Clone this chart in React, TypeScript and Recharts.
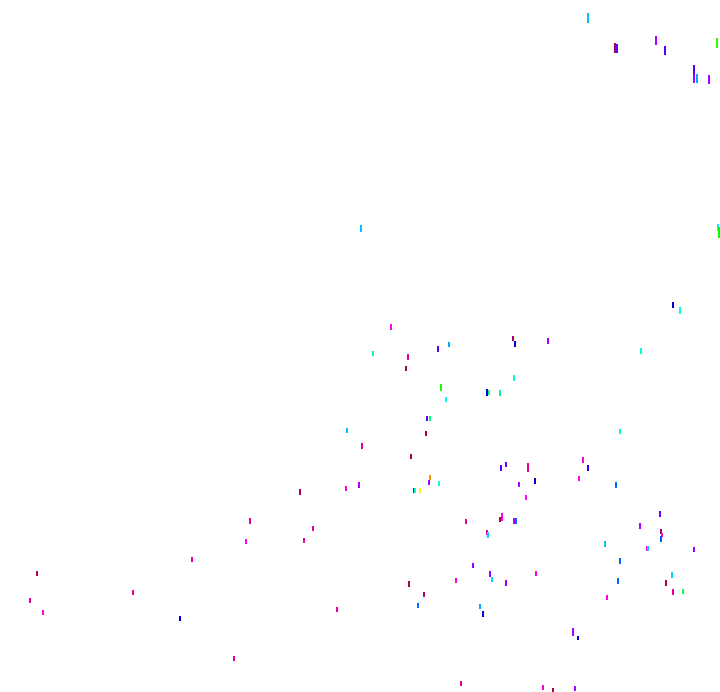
import { ScatterChart, Scatter, XAxis, YAxis } from "recharts";

// each mark: x position, top y, stroke length and a hue value
const xs = [
  588, 615, 617, 656, 665, 717, 694, 694, 697, 709,
  361, 718, 719, 673, 680, 391, 373, 408, 406, 438,
  449, 513, 515, 548, 641, 514, 441, 487, 489, 500,
  446, 427, 430, 347, 426, 620, 362, 411, 528, 501,
  506, 583, 588, 535, 430, 429, 439, 414, 415, 420,
  359, 346, 300, 519, 579, 616, 526, 660, 466, 502,
  500, 514, 516, 250, 313, 640, 661, 662, 661, 487,
  488, 246, 304, 605, 647, 648, 694, 192, 620, 37,
  473, 536, 490, 492, 506, 409, 456, 672, 618, 666,
  673, 683, 424, 133, 30, 43, 607, 418, 480, 483,
  337, 180, 573, 578, 234, 461, 543, 553, 575
];
const ys = [
  13, 43, 44, 36, 46, 38, 65, 74, 74, 75,
  225, 224, 227, 302, 307, 324, 351, 354, 366, 346,
  342, 336, 341, 338, 348, 375, 384, 389, 390, 390,
  397, 416, 416, 428, 431, 429, 443, 454, 463, 465,
  462, 457, 465, 478, 475, 480, 481, 488, 488, 488,
  482, 486, 489, 482, 476, 482, 495, 511, 519, 513,
  517, 518, 518, 518, 526, 523, 529, 533, 536, 530,
  532, 539, 538, 541, 546, 546, 547, 557, 558, 571,
  563, 571, 571, 577, 580, 581, 578, 572, 578, 580,
  589, 589, 592, 590, 598, 610, 595, 603, 604, 611,
  607, 616, 628, 636, 656, 681, 685, 688, 686
];
const lens = [
  10, 10, 9, 9, 9, 10, 10, 9, 9, 9,
  7, 7, 11, 6, 7, 6, 5, 6, 5, 6,
  5, 5, 6, 6, 6, 6, 7, 7, 5, 6,
  5, 5, 5, 5, 5, 5, 6, 5, 9, 6,
  5, 6, 6, 6, 5, 5, 5, 5, 5, 5,
  6, 5, 6, 5, 5, 6, 5, 6, 5, 8,
  5, 6, 6, 6, 5, 6, 5, 4, 6, 5,
  6, 5, 5, 6, 5, 5, 5, 5, 6, 5,
  5, 5, 6, 5, 6, 6, 5, 6, 6, 6,
  6, 5, 5, 5, 5, 5, 5, 5, 5, 6,
  5, 5, 8, 4, 5, 5, 5, 4, 5
];
const hues = [
  195, 325, 260, 280, 260, 110, 260, 280, 200, 280,
  195, 185, 120, 240, 170, 300, 155, 318, 325, 260,
  200, 325, 240, 280, 170, 170, 115, 240, 160, 150,
  175, 260, 150, 195, 330, 170, 318, 330, 318, 260,
  265, 310, 250, 240, 35, 280, 170, 260, 170, 58,
  280, 310, 326, 280, 305, 215, 300, 265, 318, 305,
  326, 280, 215, 318, 315, 280, 326, 310, 220, 318,
  190, 305, 318, 195, 305, 190, 275, 315, 215, 326,
  275, 305, 275, 190, 275, 326, 310, 190, 215, 330,
  318, 140, 326, 318, 318, 310, 305, 215, 200, 240,
  315, 240, 280, 240, 318, 318, 310, 326, 280
];

const data = xs.map((x, i) => ({ x, y: ys[i], len: lens[i], hue: hues[i] }));

const hueColor = (h: number) => {
  let l = 50;
  if (h >= 323) l = 33;
  else if (h >= 315) l = 44;
  else if (h >= 235 && h <= 245) l = 40;
  return `hsl(${h}, 100%, ${l}%)`;
};

const Tick = (props: any) => {
  const { cx, cy, payload } = props;
  return <rect x={cx - 1} y={cy} width={2} height={payload.len} fill={hueColor(payload.hue)} />;
};

export default function App() {
  return (
    <div style={{ position: "absolute", left: 0, top: 0, width: 720, height: 692, background: "#fff" }}>
      <ScatterChart width={720} height={692} margin={{ top: 0, right: 0, bottom: 0, left: 0 }}>
        <XAxis type="number" dataKey="x" domain={[0, 720]} hide />
        <YAxis type="number" dataKey="y" domain={[0, 692]} reversed hide />
        <Scatter data={data} shape={<Tick />} isAnimationActive={false} />
      </ScatterChart>
    </div>
  );
}
